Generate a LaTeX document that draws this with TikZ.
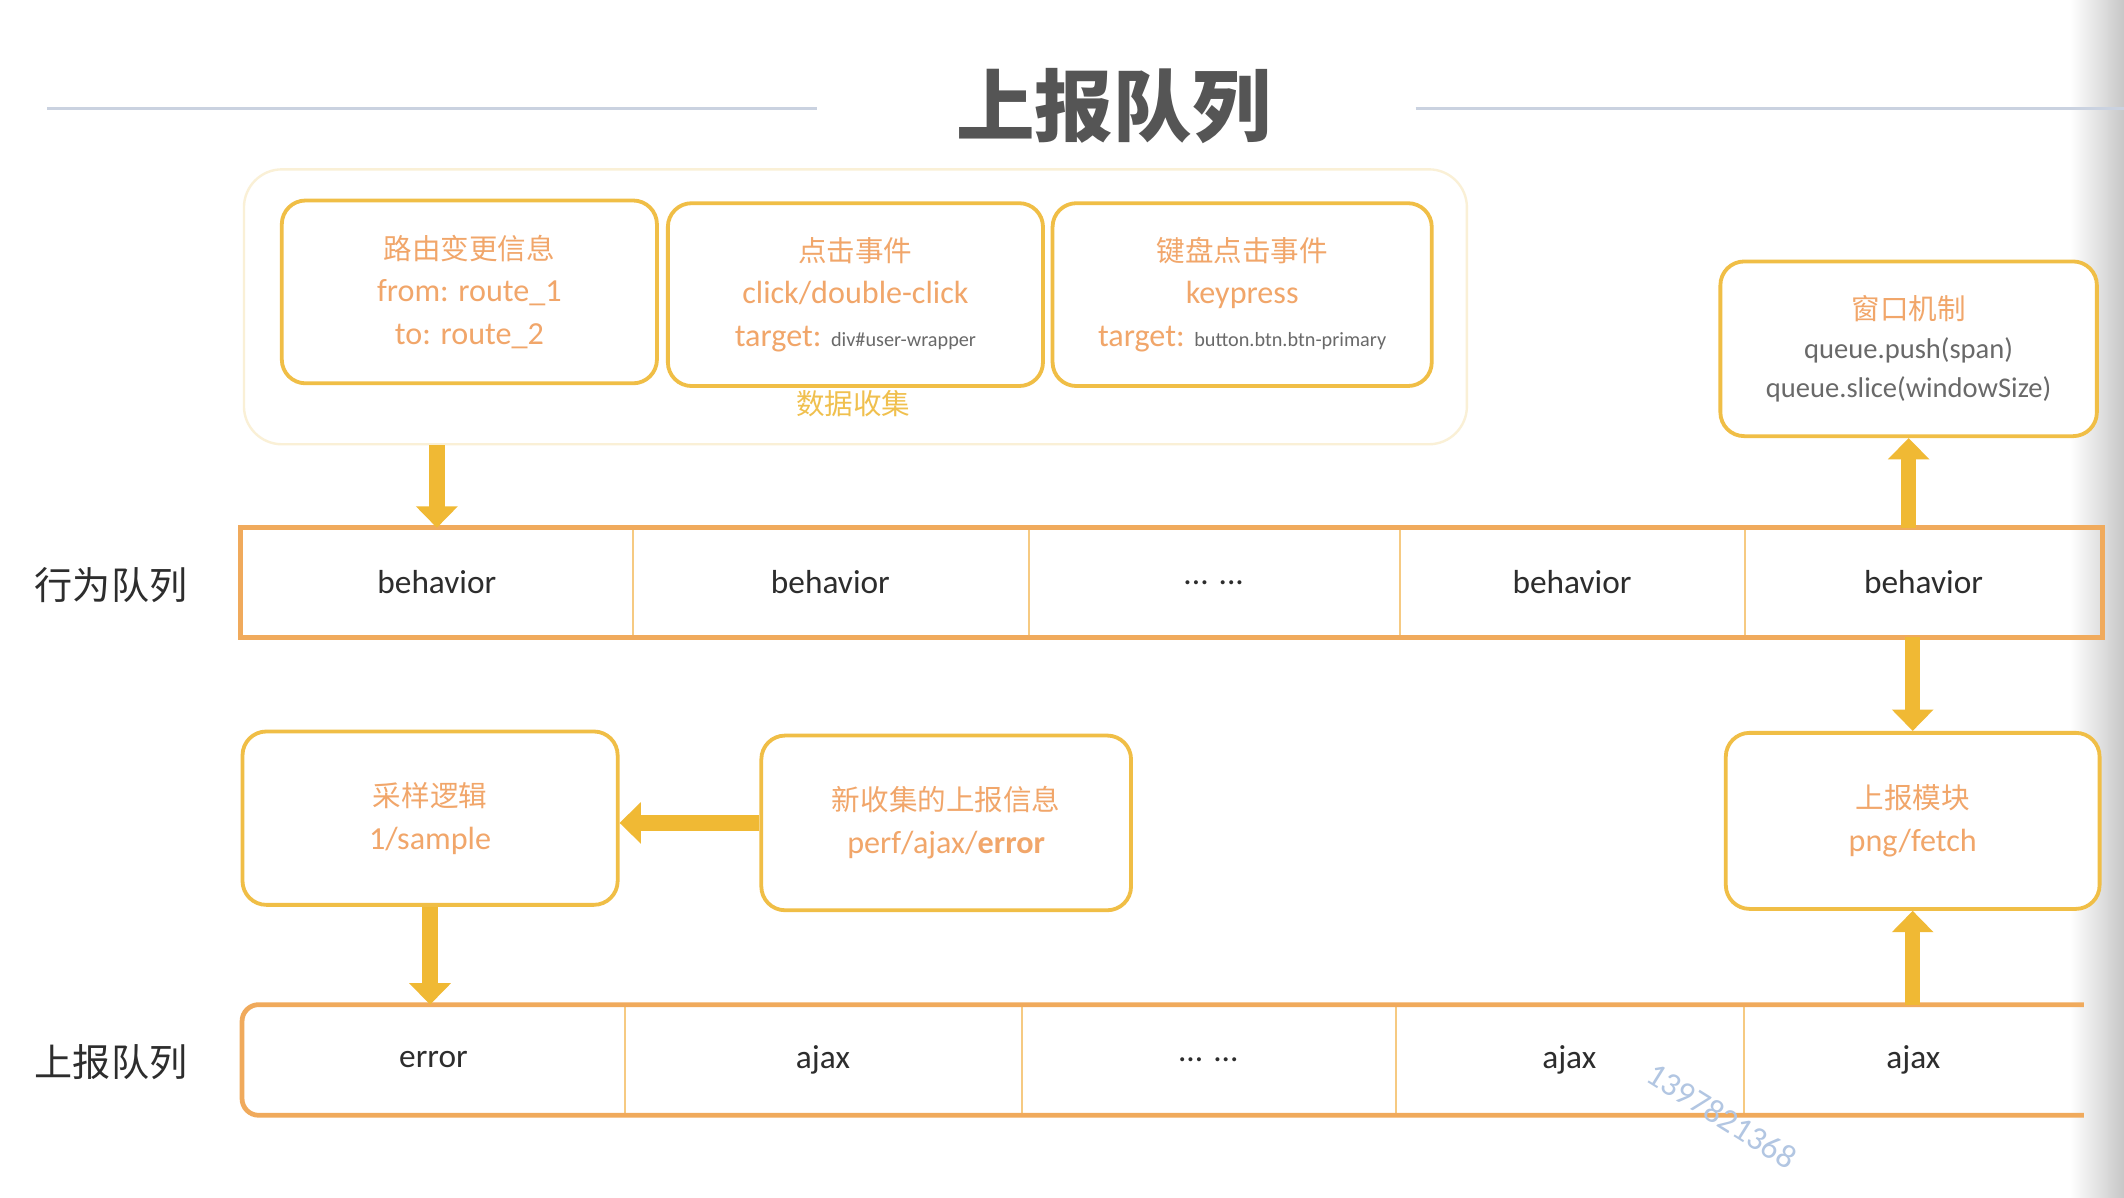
\documentclass[tikz,border=0pt]{standalone}
\usepackage{fontspec}
\setmainfont{Carlito}
\newfontfamily\cjk{Noto Sans CJK SC}
\usetikzlibrary{arrows.meta, positioning}

\definecolor{boxline}{RGB}{240,190,70}
\definecolor{boxtext}{RGB}{241,166,106}
\definecolor{faintline}{RGB}{250,240,214}
\definecolor{collectc}{RGB}{240,192,78}
\definecolor{rowline}{RGB}{240,170,92}
\definecolor{divc}{RGB}{246,202,130}
\definecolor{arrowc}{RGB}{240,185,52}
\definecolor{graytext}{RGB}{105,105,105}
\definecolor{darktext}{RGB}{45,45,45}
\definecolor{titlegray}{RGB}{85,85,85}
\definecolor{ruleline}{RGB}{202,210,224}
\definecolor{wmark}{RGB}{178,198,226}

\newcommand\zh[1]{{\cjk\fontsize{12}{18}\selectfont #1}}

\begin{document}
\begin{tikzpicture}[x=0.02cm, y=-0.02cm,
  card/.style={draw=boxline, line width=1.6pt, rounded corners=10pt, fill=white,
    align=center, inner sep=0pt, text=boxtext, font=\fontsize{13.5}{18}\selectfont},
  cell/.style={inner sep=0pt, minimum height=1.6cm, text=darktext,
    font=\fontsize{14}{16}\selectfont},
  rowframe/.style={draw=rowline, line width=2pt},
  divline/.style={draw=divc, line width=0.9pt},
  fatarrow/.style={draw=arrowc, line width=6.5pt, -{Triangle[width=17pt,length=9pt]}},
  rowlabel/.style={text=darktext, font=\cjk\fontsize{16}{18}\selectfont}]

\fill[white] (0,0) rectangle (1568,884);
\useasboundingbox (0,0) rectangle (1568,884);
\shade[left color=white, right color=black!22] (1528,0) rectangle (1568,884);

% title
\node[text=titlegray, font=\cjk\bfseries\fontsize{33}{36}\selectfont] (title) at (822,78) {上报队列};
\draw[ruleline, line width=1pt] (35,80) -- (603,80);
\draw[ruleline, line width=1pt] (1045,80) -- (1568,80);

% data collection
\node[card, draw=faintline, line width=1pt, rounded corners=16pt,
  minimum width=18.06cm, minimum height=4.06cm] (collect) at (631.5,226.5) {};
\node[card, minimum width=5.54cm, minimum height=2.7cm] (route) at (346.5,215.5)
  {\zh{路由变更信息}\\from: route\_1\\to: route\_2};
\node[card, minimum width=5.54cm, minimum height=2.7cm] (click) at (631.5,217.5)
  {\zh{点击事件}\\click/double-click\\target: {\color{graytext}\fontsize{8.5}{10}\selectfont div\#user-wrapper}};
\node[card, minimum width=5.6cm, minimum height=2.7cm] (key) at (917,217.5)
  {\zh{键盘点击事件}\\keypress\\target: {\color{graytext}\fontsize{8.5}{10}\selectfont button.btn.btn-primary}};
\node[text=collectc, font=\cjk\fontsize{12}{14}\selectfont] (collectlbl) at (630,298) {数据收集};

\node[card, minimum width=5.56cm, minimum height=2.58cm, text=graytext,
  font=\fontsize{12}{16.5}\selectfont] (window) at (1409,257.5)
  {\textcolor{boxtext}{\zh{窗口机制}}\\queue.push(span)\\queue.slice(windowSize)};

% behavior queue
\node[rowlabel] (blabel) at (82,432) {行为队列};
\foreach \n/\cx/\w/\txt in {1/322.5/5.78/behavior, 2/613/5.84/behavior, 3/896/5.48/{... ...},
  4/1160.5/5.10/behavior, 5/1420/5.28/behavior}
  \node[cell, minimum width=\w cm] (b\n) at (\cx,430) {\txt};
\foreach \i in {1,...,4}
  \draw[divline] (b\i.north east) -- (b\i.south east);
\draw[rowframe] (b1.north west) rectangle (b5.south east);

% sampling
\node[card, minimum width=5.54cm, minimum height=2.56cm] (sampling) at (317.5,604)
  {\zh{采样逻辑}\\1/sample};
\node[card, minimum width=5.46cm, minimum height=2.58cm] (newinfo) at (698.5,607.5)
  {\zh{新收集的上报信息}\\perf/ajax/\textbf{error}};
\node[card, minimum width=5.52cm, minimum height=2.6cm] (upload) at (1412,606)
  {\zh{上报模块}\\png/fetch};

% report queue
\node[rowlabel] (rlabel) at (82,784) {上报队列};
\foreach \n/\cx/\w/\txt in {1/320/5.64/error, 2/607.5/5.86/ajax, 3/892/5.52/{... ...},
  4/1158.5/5.14/ajax, 5/1412.5/5.02/ajax}
  \node[cell, minimum width=\w cm, minimum height=1.62cm] (r\n) at (\cx,782.5) {\txt};
\foreach \i in {1,...,4}
  \draw[divline] (r\i.north east) -- (r\i.south east);
\draw[rowframe, rounded corners=7pt] (r5.north east) -- (r1.north west) -- (r1.south west) -- (r5.south east);

% arrows
\draw[fatarrow] (b1.north |- collect.south) -- (b1.north);
\draw[fatarrow] (window.south |- b5.north) -- (window.south);
\draw[fatarrow] (upload.north |- b5.south) -- (upload.north);
\draw[fatarrow] (newinfo.west) -- (sampling.east |- newinfo.west);
\draw[fatarrow] (sampling.south) -- (sampling.south |- r1.north);
\draw[fatarrow] (upload.south |- r5.north) -- (upload.south);

\node[rotate=-32, text=wmark, font=\fontsize{14}{14}\selectfont] (wm) at (1271,824) {1397821368};
\end{tikzpicture}
\end{document}
